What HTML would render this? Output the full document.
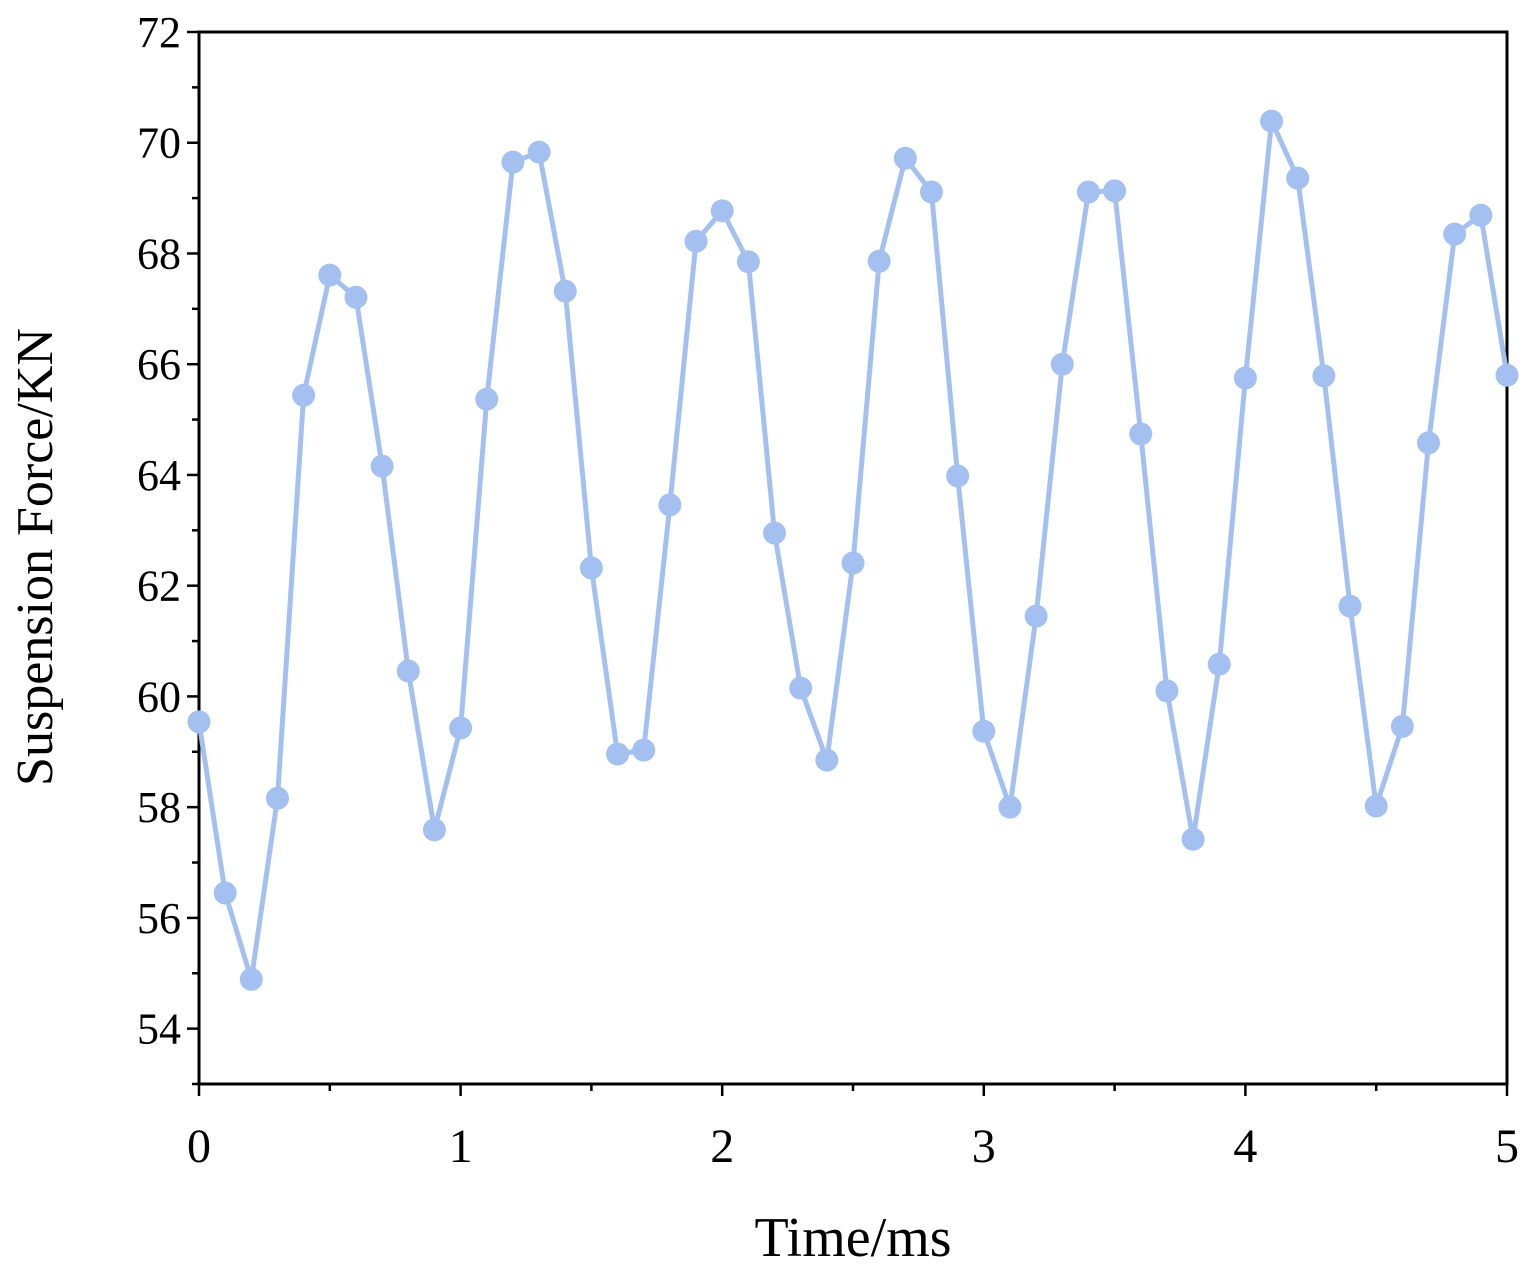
<!DOCTYPE html>
<html><head><meta charset="utf-8"><style>
html,body{margin:0;padding:0;background:#fff;}
svg{display:block;font-family:"Liberation Serif",serif;}
</style></head><body>
<svg id="chart" width="1526" height="1274" viewBox="0 0 1526 1274"></svg>
<script>
const times = [0,0.1,0.2,0.3,0.4,0.5,0.6,0.7,0.8,0.9,1.0,1.1,1.2,1.3,1.4,1.5,1.6,1.7,1.8,1.9,2.0,2.1,2.2,2.3,2.4,2.5,2.6,2.7,2.8,2.9,3.0,3.1,3.2,3.3,3.4,3.5,3.6,3.7,3.8,3.9,4.0,4.1,4.2,4.3,4.4,4.5,4.6,4.7,4.8,4.9,5.0];
const forces = [59.54,56.45,54.89,58.16,65.44,67.61,67.21,64.16,60.46,57.59,59.43,65.37,69.65,69.83,67.32,62.32,58.96,59.03,63.46,68.22,68.77,67.85,62.95,60.15,58.85,62.41,67.86,69.72,69.11,63.98,59.37,58.00,61.45,66.00,69.11,69.13,64.74,60.10,57.42,60.58,65.75,70.39,69.36,65.79,61.63,58.02,59.46,64.58,68.35,68.69,65.80];
const xTicks = [0,1,2,3,4,5];
const yTicks = [54,56,58,60,62,64,66,68,70,72];

const L=199,R=1507,T=32,B=1084,xmin=0,xmax=5,ymin=53,ymax=72;
const sx=v=>L+(v-xmin)/(xmax-xmin)*(R-L);
const sy=v=>B-(v-ymin)/(ymax-ymin)*(B-T);
const svg=document.getElementById('chart');
const NS='http://www.w3.org/2000/svg';
function mk(tag,attrs){const e=document.createElementNS(NS,tag);for(const k in attrs)e.setAttribute(k,attrs[k]);svg.appendChild(e);return e;}

const frame=mk('rect',{x:L,y:T,width:R-L,height:B-T,fill:'none',stroke:'#000','stroke-width':3});



for(let v=ymin;v<=ymax;v+=1){
  const major=yTicks.includes(v);
  const t=mk('line',{x1:L-(major?12:7),x2:L,y1:sy(v),y2:sy(v),stroke:'#000','stroke-width':2.5});
  
  
}
yTicks.forEach(v=>{
  const tx=mk('text',{x:L-18,y:sy(v)+15,'text-anchor':'end','font-size':44});
  tx.textContent=v;
  
  
});
for(let v=xmin;v<=xmax+1e-9;v+=0.5){
  const major=Math.abs(v-Math.round(v))<1e-9;
  const t=mk('line',{x1:sx(v),x2:sx(v),y1:B,y2:B+(major?12:7),stroke:'#000','stroke-width':2.5});
  
  
}
xTicks.forEach(v=>{
  const tx=mk('text',{x:sx(v),y:1162,'text-anchor':'middle','font-size':48});
  tx.textContent=v;
  
  
});
const xt=mk('text',{x:853,y:1256,'text-anchor':'middle','font-size':56});
xt.textContent='Time/ms';


const yt=mk('text',{x:0,y:0,'text-anchor':'middle','font-size':52,transform:'translate(52,557) rotate(-90)'});
yt.textContent='Suspension Force/KN';



const line=mk('polyline',{points:times.map((t,i)=>sx(t)+','+sy(forces[i])).join(' '),fill:'none',stroke:'#a4c0f0','stroke-width':5,'stroke-linejoin':'round'});


times.forEach((t,i)=>{
  const c=mk('circle',{cx:sx(t),cy:sy(forces[i]),r:11.5,fill:'#a4c0f0'});
  
  
});
</script>
</body></html>
